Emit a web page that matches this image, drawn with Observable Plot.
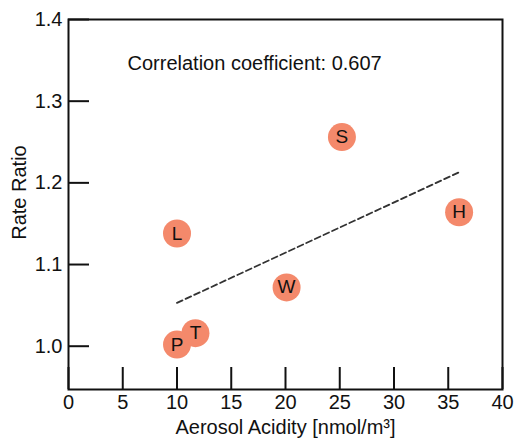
<!DOCTYPE html>
<html>
<head>
<meta charset="utf-8">
<script src="https://cdn.jsdelivr.net/npm/d3@7"></script>
<script src="https://cdn.jsdelivr.net/npm/@observablehq/plot@0.6"></script>
<style>
  html, body { margin: 0; padding: 0; background: #fff; }
  #chart { width: 518px; height: 441px; }
</style>
</head>
<body>
<div id="chart"></div>
<script>
// Data
const sites = ["P", "T", "L", "W", "S", "H"];
const acidity = [10.0, 11.7, 10.0, 20.1, 25.2, 36.0];      // nmol/m3
const rateRatio = [1.002, 1.016, 1.138, 1.072, 1.256, 1.164];

// Fitted trend line (dashed) endpoints
const fitX = [10, 36];
const fitY = [1.053, 1.213];

const xTicks = [0, 5, 10, 15, 20, 25, 30, 35, 40];
const yTicks = [1.0, 1.1, 1.2, 1.3, 1.4];
const xLabel = "Aerosol Acidity [nmol/m³]";
const yLabel = "Rate Ratio";
const annotation = ["Correlation coefficient: 0.607"];

const points = sites.map((s, i) => ({site: s, x: acidity[i], y: rateRatio[i]}));
const fit = fitX.map((x, i) => ({x, y: fitY[i]}));

const chart = Plot.plot({
  width: 518,
  height: 441,
  marginLeft: 68,
  marginRight: 16,
  marginTop: 19,
  marginBottom: 52,
  style: {
    fontFamily: "'Liberation Sans', Arial, Helvetica, sans-serif",
    fontSize: "20px",
    color: "#111",
    background: "#fff"
  },
  x: {domain: [0, 40]},
  y: {domain: [0.947, 1.4]},
  marks: [
    Plot.line(fit, {x: "x", y: "y", stroke: "#333", strokeWidth: 1.8, strokeDasharray: "6,3.5"}),
    Plot.dot(points, {x: "x", y: "y", r: 14, fill: "#f4896b", stroke: "none"}),
    Plot.text(points, {x: "x", y: "y", text: "site", fontSize: 19, fill: "#111"}),
    Plot.text(annotation, {frameAnchor: "top-left", text: d => d, dx: 59, dy: 44, textAnchor: "start", lineAnchor: "middle", fontSize: 20, fill: "#111"}),
    Plot.axisX(xTicks, {tickSize: -22, text: null, label: null, strokeWidth: 2, stroke: "#111"}),
    Plot.axisX(xTicks, {tickSize: 0, tickPadding: 5, fontSize: 20, label: xLabel, labelArrow: "none", labelAnchor: "center", labelOffset: 44}),
    Plot.axisY(yTicks, {tickSize: -21, text: null, label: null, strokeWidth: 2, stroke: "#111"}),
    Plot.axisY(yTicks, {tickSize: 0, tickPadding: 6, fontSize: 20, tickFormat: d3.format(".1f"), label: yLabel, labelArrow: "none", labelAnchor: "center", labelOffset: 57}),
    Plot.frame({stroke: "#111", strokeWidth: 2})
  ]
});
// the reference's y title sits a little above the plot's centre
d3.select(chart).selectAll("g[aria-label='y-axis label'] text").attr("dx", 12);
document.getElementById("chart").appendChild(chart);
</script>
</body>
</html>
